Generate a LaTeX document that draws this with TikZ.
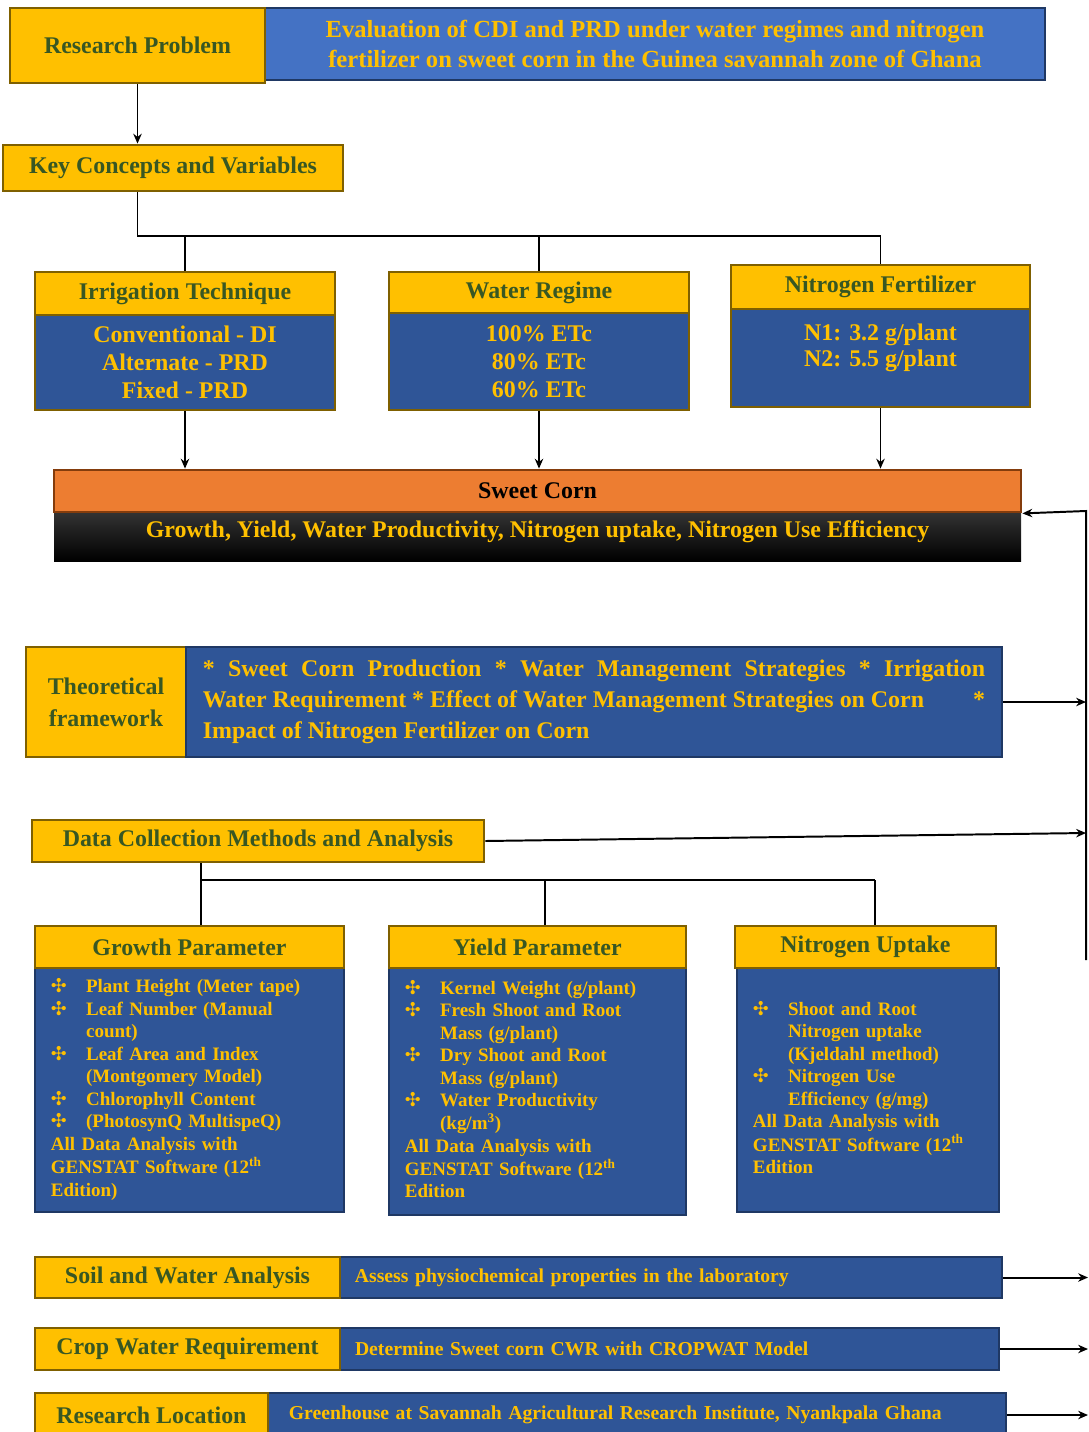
\documentclass[tikz,border=0pt]{standalone}
\usepackage{fontspec}
\setmainfont{Liberation Serif}
\newfontfamily\symf{DejaVu Sans}
\usetikzlibrary{positioning,arrows.meta}
\definecolor{gold}{HTML}{FFC000}
\definecolor{brownline}{HTML}{7F6000}
\definecolor{leaftext}{HTML}{385723}
\definecolor{titleblue}{HTML}{4472C4}
\definecolor{bodyblue}{HTML}{2F5597}
\definecolor{navyline}{HTML}{1F3864}
\definecolor{cornorange}{HTML}{ED7D31}
\definecolor{cornline}{HTML}{843C0C}
\newcommand{\fs}[2]{\fontsize{#1}{#2}\selectfont\bfseries}
\newcommand{\bul}{{\symf ✣}}
\newcommand{\wide}[1]{\multicolumn{2}{@{}l@{}}{#1}}

\begin{document}
\begin{tikzpicture}[x=0.025cm, y=-0.025cm, >=Stealth,
    sz/.style 2 args={minimum width=#1*0.025cm, minimum height=#2*0.025cm},
    ybox/.style={draw=brownline, line width=2pt, fill=gold, text=leaftext,
      font=\fs{17}{21}, inner sep=0pt, align=center},
    bbox/.style={draw=navyline, line width=2pt, fill=bodyblue, text=gold,
      font=\fs{17}{21}, inner sep=0pt, align=center},
    listbox/.style={bbox, font=\fs{13.5}{16}, align=left},
    rowbox/.style={bbox, font=\fs{14}{17}, align=left},
    wire/.style={line width=1.4pt},
    link/.style={line width=1.4pt, -{Stealth[length=7pt,width=6pt]}}]
  \useasboundingbox (0,0) rectangle (1088,1432);

  % research problem
  \node[bbox, fill=titleblue, sz={780}{72}, font=\fs{17.5}{21}] (title) at (655,44)
    {Evaluation of CDI and PRD under water regimes and nitrogen\\
     fertilizer on sweet corn in the Guinea savannah zone of Ghana};
  \node[ybox, sz={255}{75}] (rp) at (137.5,45.5) {Research Problem};
  \node[ybox, sz={340}{46}] (kc) at (173,168) {Key Concepts and Variables};

  % variables
  \node[bbox, draw=brownline, sz={300}{95}, font=\fs{17}{20}] (itb) at (185,362.5)
    {Conventional - DI\\ Alternate - PRD\\ Fixed - PRD};
  \node[ybox, sz={300}{43}] (it) at (185,293.5) {Irrigation Technique};
  \node[bbox, draw=brownline, sz={300}{97}, font=\fs{17}{20}] (wrb) at (539,361.5)
    {100\% ETc\\ 80\% ETc\\ 60\% ETc};
  \node[ybox, sz={300}{41}] (wr) at (539,292.5) {Water Regime};
  \node[bbox, draw=brownline, sz={299}{98}, font=\fs{17}{18.5}] (nfb) at (880.5,358)
    {N1: 3.2 g/plant\\ N2: 5.5 g/plant\\ \mbox{}};
  \node[ybox, sz={299}{44}] (nf) at (880.5,287) {Nitrogen Fertilizer};

  % sweet corn
  \node[top color=black!80, middle color=black, bottom color=black, text=gold,
    font=\fs{17}{21}, inner sep=0pt, text depth=11pt, sz={967}{49}] (scb) at (537.5,536.5)
    {Growth, Yield, Water Productivity, Nitrogen uptake, Nitrogen Use Efficiency};
  \node[ybox, fill=cornorange, draw=cornline, text=black, sz={967}{42}] (sco) at (537.5,491)
    {Sweet Corn};

  % theory
  \node[ybox, sz={160}{110}, font=\fs{17}{22.7}] (tf) at (106,702) {Theoretical\\ framework};
  \node[bbox, sz={816}{110}, font=\fs{17}{22}, align=justify, text width=19.55cm] (tfb) at (594,702)
    {* Sweet Corn Production * Water Management Strategies * Irrigation\linebreak
     Water Requirement * Effect of Water Management Strategies on Corn \hfill *\linebreak
     Impact of Nitrogen Fertilizer on Corn};

  % data collection
  \node[ybox, sz={452}{42}] (dc) at (258,841) {Data Collection Methods and Analysis};
  \node[listbox, sz={309}{244}, text width=6.925cm] (gpb) at (189.5,1090)
    {\begin{tabular}{@{}p{25pt}@{}l@{}}
      \bul & Plant Height (Meter tape)\\
      \bul & Leaf Number (Manual\\
           & count)\\
      \bul & Leaf Area and Index\\
           & (Montgomery Model)\\
      \bul & Chlorophyll Content\\
      \bul & (PhotosynQ MultispeQ)\\
      \wide{All Data Analysis with}\\
      \wide{GENSTAT Software (12\textsuperscript{th}}\\
      \wide{Edition)}
     \end{tabular}};
  \node[ybox, sz={309}{42}] (gp) at (189.5,947) {Growth Parameter};
  \node[listbox, sz={297}{247}, text width=6.625cm] (ypb) at (537.5,1091.5)
    {\begin{tabular}{@{}p{25pt}@{}l@{}}
      \bul & Kernel Weight (g/plant)\\
      \bul & Fresh Shoot and Root\\
           & Mass (g/plant)\\
      \bul & Dry Shoot and Root\\
           & Mass (g/plant)\\
      \bul & Water Productivity\\
           & (kg/m\textsuperscript{3})\\
      \wide{All Data Analysis with}\\
      \wide{GENSTAT Software (12\textsuperscript{th}}\\
      \wide{Edition}
     \end{tabular}};
  \node[ybox, sz={297}{42}] (yp) at (537.5,947) {Yield Parameter};
  \node[listbox, sz={262}{244}, text width=5.75cm] (nub) at (868,1090)
    {\begin{tabular}{@{}p{25pt}@{}l@{}}
      \bul & Shoot and Root\\
           & Nitrogen uptake\\
           & (Kjeldahl method)\\
      \bul & Nitrogen Use\\
           & Efficiency (g/mg)\\
      \wide{All Data Analysis with}\\
      \wide{GENSTAT Software (12\textsuperscript{th}}\\
      \wide{Edition}
     \end{tabular}};
  \node[ybox, sz={261}{42}] (nu) at (865.5,947) {Nitrogen Uptake};

  % study rows
  \node[rowbox, sz={662}{41}, text width=15.8cm] (swb) at (671,1277.5)
    {Assess physiochemical properties in the laboratory};
  \node[ybox, sz={305}{41}] (sw) at (187.5,1277.5) {Soil and Water Analysis};
  \node[rowbox, sz={659}{42}, text width=15.72cm] (cwb) at (669.5,1349)
    {Determine Sweet corn CWR with CROPWAT Model};
  \node[ybox, sz={305}{42}] (cw) at (187.5,1349) {Crop Water Requirement};
  \node[rowbox, sz={738}{44}, text width=17.4cm] (rlb) at (637,1415)
    {Greenhouse at Savannah Agricultural Research Institute, Nyankpala Ghana};
  \node[ybox, sz={233}{44}] (rl) at (151.5,1415) {Research Location};

  % connectors
  \coordinate (kbus) at (137.5,236);
  \coordinate (dbus) at (201,880);
  \coordinate (dy) at (545,880);
  \coordinate (dn) at (875,880);
  \coordinate (rtop) at (1086,511);
  \coordinate (rbot) at (1086,960);
  \coordinate (dcend) at (1086,833);
  \coordinate (edge) at (1088,0);

  \draw[link] (rp.south) -- (rp.south |- kc.north);
  \draw[wire] (rp.south |- kc.south) -- (kbus) -- (kbus -| nf.north);
  \foreach \n in {it,wr,nf}
    \draw[wire] (\n.north |- kbus) -- (\n.north);
  \foreach \n in {itb,wrb,nfb}
    \draw[link] (\n.south) -- (\n.south |- sco.north);

  \draw[link] (rbot) -- (rtop) -- (sco.south east);
  \draw[link] (tfb.east) -- (tfb.east -| rtop);
  \draw[link] (dc.east) -- (dcend);

  \draw[wire] (dbus |- dc.south) -- (dbus) -- (dn);
  \foreach \c/\n in {dbus/gp,dy/yp,dn/nu}
    \draw[wire] (\c) -- (\c |- \n.north);

  \foreach \n in {swb,cwb,rlb}
    \draw[link] (\n.east) -- (\n.east -| edge);
\end{tikzpicture}
\end{document}
